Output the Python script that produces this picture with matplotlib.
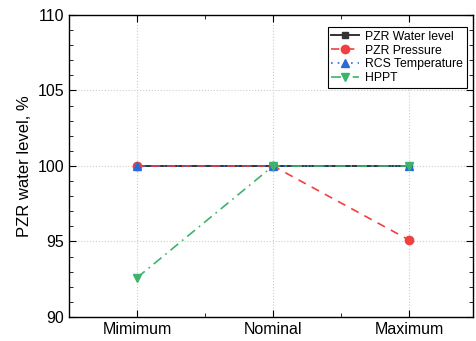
import matplotlib.pyplot as plt
from matplotlib.ticker import MultipleLocator

plt.rcParams["font.family"] = ["Liberation Sans", "DejaVu Sans"]

categories = ["Mimimum", "Nominal", "Maximum"]
water_level = [100.0, 100.0, 100.0]
pressure = [100.0, 100.0, 95.1]
rcs_temp = [100.0, 100.0, 100.0]
hppt = [92.6, 100.0, 100.0]

fig = plt.figure(figsize=(4.76, 3.41), dpi=100)
ax = fig.add_axes([69 / 476, 1 - 317 / 341, (473 - 69) / 476, (317 - 15) / 341])

xs = list(range(len(categories)))
ax.plot(xs, water_level, color="#333333", ls="-", marker="s", ms=5, lw=1.4,
        label="PZR Water level")
ax.plot(xs, pressure, color="#f04040", ls=(0, (5, 4)), marker="o", ms=6, lw=1.2,
        label="PZR Pressure")
ax.plot(xs, rcs_temp, color="#2a6bd8", ls=(0, (1, 3)), marker="^", ms=6, lw=1.2,
        label="RCS Temperature")
ax.plot(xs, hppt, color="#3cb46e", ls=(0, (6, 3, 1, 3)), marker="v", ms=6, lw=1.2,
        label="HPPT")

ax.set_xlim(-0.5, 2.47)
ax.set_ylim(90, 110)
ax.set_xticks(xs)
ax.set_xticklabels(categories, fontsize=11.5)
ax.xaxis.set_minor_locator(MultipleLocator(0.5))
ax.yaxis.set_major_locator(MultipleLocator(5))
ax.yaxis.set_minor_locator(MultipleLocator(1))
ax.tick_params(which="both", direction="in", top=True, right=True, labelsize=11.5)
ax.tick_params(which="major", length=5)
ax.tick_params(which="minor", length=3)
ax.set_ylabel("PZR water level, %", fontsize=12)
ax.grid(True, which="major", ls=":", color="#cccccc", lw=0.8)
for s in ax.spines.values():
    s.set_linewidth(1.0)

leg = ax.legend(loc="upper right", bbox_to_anchor=(0.985, 0.96), fontsize=8.8,
                fancybox=False, edgecolor="black", framealpha=1,
                handlelength=2.3, handletextpad=0.5, borderpad=0.3,
                labelspacing=0.15, borderaxespad=0)
leg.get_frame().set_linewidth(0.8)

fig.savefig("out.png", dpi=100)
